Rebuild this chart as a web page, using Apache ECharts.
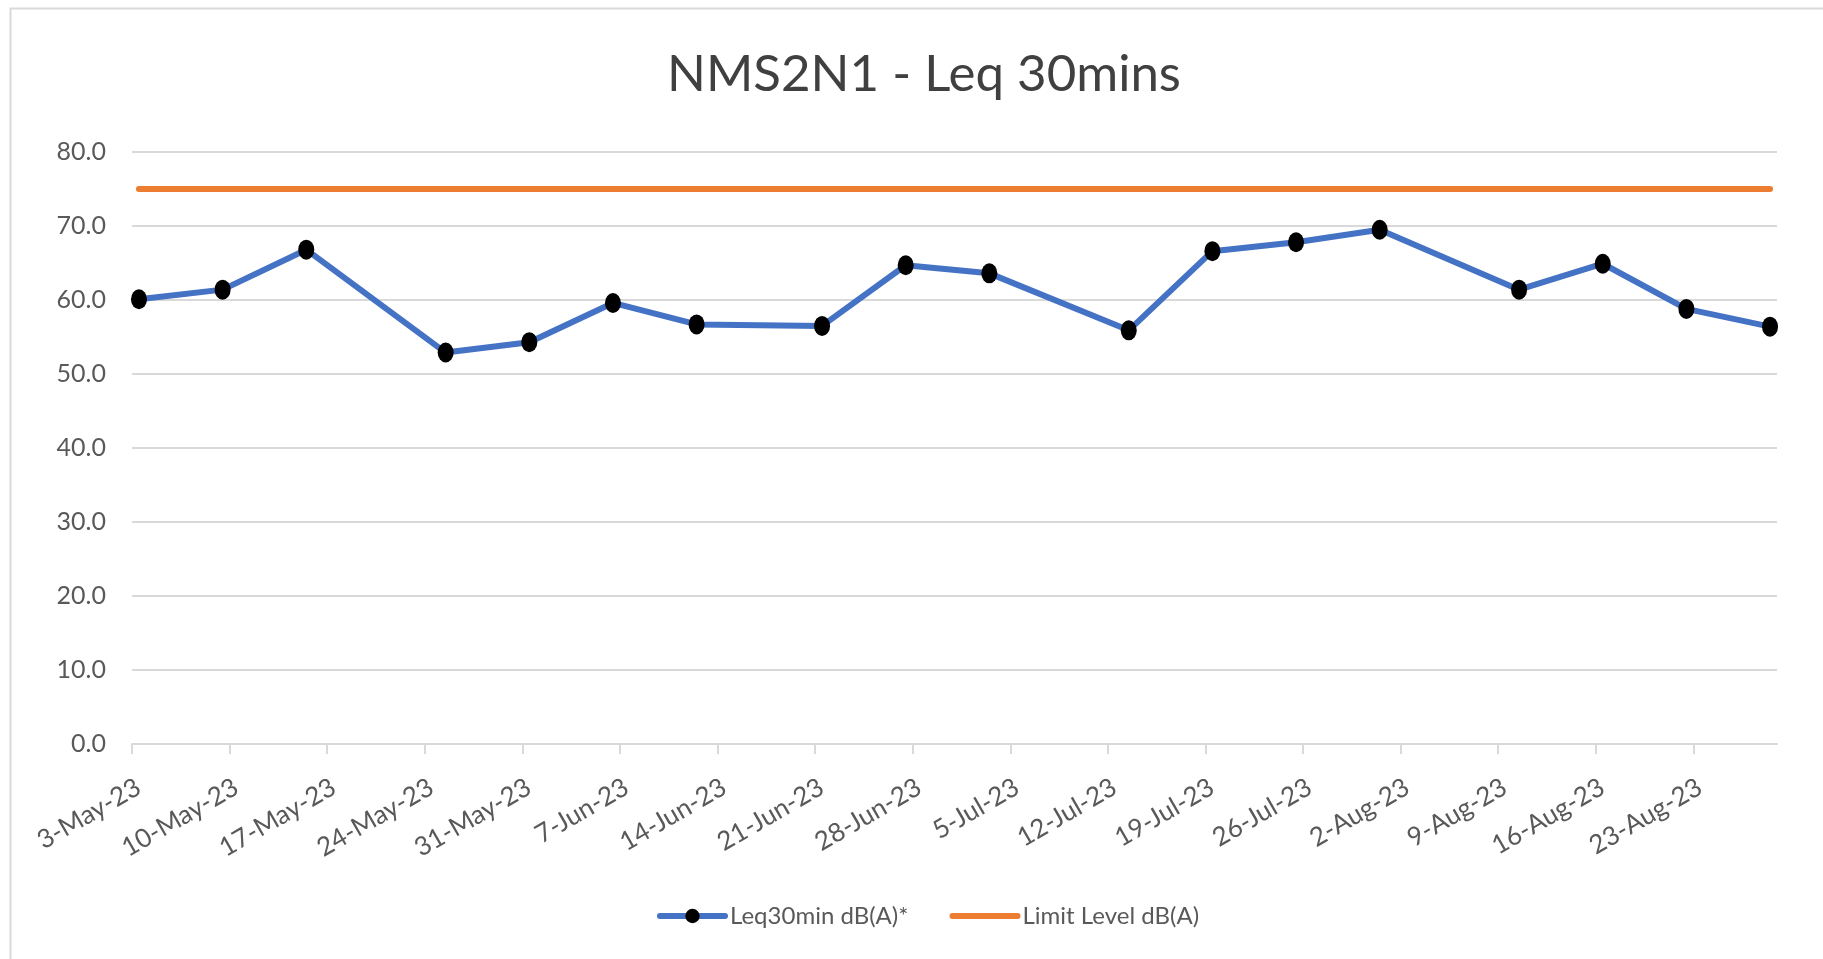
<!DOCTYPE html>
<html>
<head>
<meta charset="utf-8">
<title>NMS2N1 - Leq 30mins</title>
<script src="https://cdn.jsdelivr.net/npm/echarts@6/dist/echarts.min.js"></script>
<style>
  html, body { margin: 0; padding: 0; background: #ffffff; }
  #chart { width: 1823px; height: 959px; }
</style>
</head>
<body>
<div id="chart"></div>
<script>
// Measurement dates and 30-minute Leq readings, dB(A)
const dates = ['3-May-23', '9-May-23', '15-May-23', '25-May-23', '31-May-23', '6-Jun-23',
  '12-Jun-23', '21-Jun-23', '27-Jun-23', '3-Jul-23', '13-Jul-23', '19-Jul-23',
  '25-Jul-23', '31-Jul-23', '10-Aug-23', '16-Aug-23', '22-Aug-23', '28-Aug-23'];
const leqValues = [60.1, 61.4, 66.8, 52.9, 54.3, 59.6, 56.7, 56.5, 64.7, 63.6,
  55.9, 66.6, 67.8, 69.5, 61.4, 64.9, 58.8, 56.4];
const limitValues = [75, 75, 75, 75, 75, 75, 75, 75, 75, 75, 75, 75, 75, 75, 75, 75, 75, 75];

// Date axis: one slot per day, weekly tick labels
const axisStart = '3-May-23';
const axisEnd = '29-Aug-23';
const xTickLabels = ['3-May-23', '10-May-23', '17-May-23', '24-May-23', '31-May-23', '7-Jun-23',
  '14-Jun-23', '21-Jun-23', '28-Jun-23', '5-Jul-23', '12-Jul-23', '19-Jul-23', '26-Jul-23',
  '2-Aug-23', '9-Aug-23', '16-Aug-23', '23-Aug-23'];
const yMin = 0, yMax = 80, yStep = 10;

const seriesNames = ['Leq30min dB(A)*', 'Limit Level dB(A)'];

const MONTHS = { Jan: 0, Feb: 1, Mar: 2, Apr: 3, May: 4, Jun: 5, Jul: 6, Aug: 7, Sep: 8, Oct: 9, Nov: 10, Dec: 11 };
function dayNumber(s) {
  const [d, m, y] = s.split('-');
  return Date.UTC(2000 + Number(y), MONTHS[m], Number(d)) / 86400000;
}
const origin = dayNumber(axisStart);
const dayOffset = s => dayNumber(s) - origin;
// points sit in the middle of their day slot
const slotCentre = s => dayOffset(s) + 0.5;

const tickValues = xTickLabels.map(dayOffset);
const labelByValue = {};
xTickLabels.forEach((t, i) => { labelByValue[tickValues[i]] = t; });

const FONT = 'Lato, "Open Sans", sans-serif';
const GRID_GREY = '#d9d9d9';
const TEXT_GREY = '#595959';
const BLUE = '#4472c4';
const ORANGE = '#ed7d31';

const chart = echarts.init(document.getElementById('chart'), null, { renderer: 'canvas' });

chart.setOption({
  backgroundColor: '#ffffff',
  animation: false,
  textStyle: { fontFamily: FONT },
  graphic: [{
    type: 'rect',
    left: 8, top: 6,
    shape: { width: 1900, height: 1000 },
    style: { fill: 'none', stroke: GRID_GREY, lineWidth: 2 },
    silent: true,
    z: -1
  }],
  title: {
    text: 'NMS2N1 - Leq 30mins',
    left: 919, top: 44,
    textAlign: 'center',
    textStyle: { fontFamily: FONT, fontSize: 51, fontWeight: 'normal', color: '#404040' }
  },
  grid: { left: 132, right: 46, top: 152, bottom: 215, containLabel: false },
  legend: {
    left: 652, top: 899,
    itemWidth: 65, itemHeight: 18, itemGap: 41,
    lineStyle: { width: 6, cap: 'round' },
    textStyle: { fontFamily: FONT, fontSize: 24, color: TEXT_GREY },
    data: [
      { name: seriesNames[0] },
      { name: seriesNames[1], itemStyle: { opacity: 0 } }
    ]
  },
  xAxis: {
    type: 'value',
    min: dayOffset(axisStart),
    max: dayOffset(axisEnd),
    axisLine: { show: true, lineStyle: { color: GRID_GREY, width: 2 } },
    axisTick: { show: true, length: 10, customValues: tickValues, lineStyle: { color: GRID_GREY, width: 2 } },
    splitLine: { show: false },
    axisLabel: {
      customValues: tickValues,
      rotate: 30,
      margin: 30,
      verticalAlign: 'top',
      fontFamily: FONT, fontSize: 26, color: TEXT_GREY,
      formatter: v => labelByValue[v] || ''
    }
  },
  yAxis: {
    type: 'value',
    min: yMin, max: yMax, interval: yStep,
    axisLine: { show: false },
    axisTick: { show: false },
    splitLine: { lineStyle: { color: GRID_GREY, width: 2 } },
    axisLabel: {
      margin: 26,
      fontFamily: FONT, fontSize: 25, color: TEXT_GREY,
      formatter: v => v.toFixed(1)
    }
  },
  series: [
    {
      name: seriesNames[0],
      type: 'line',
      data: dates.map((d, i) => [slotCentre(d), leqValues[i]]),
      symbol: 'circle',
      symbolSize: [16, 20],
      itemStyle: { color: '#000000' },
      lineStyle: { color: BLUE, width: 6, cap: 'round', join: 'round' },
      z: 3
    },
    {
      name: seriesNames[1],
      type: 'line',
      data: dates.map((d, i) => [slotCentre(d), limitValues[i]]),
      symbol: 'none',
      itemStyle: { color: ORANGE },
      lineStyle: { color: ORANGE, width: 6, cap: 'round' },
      z: 2
    }
  ]
});
</script>
</body>
</html>
